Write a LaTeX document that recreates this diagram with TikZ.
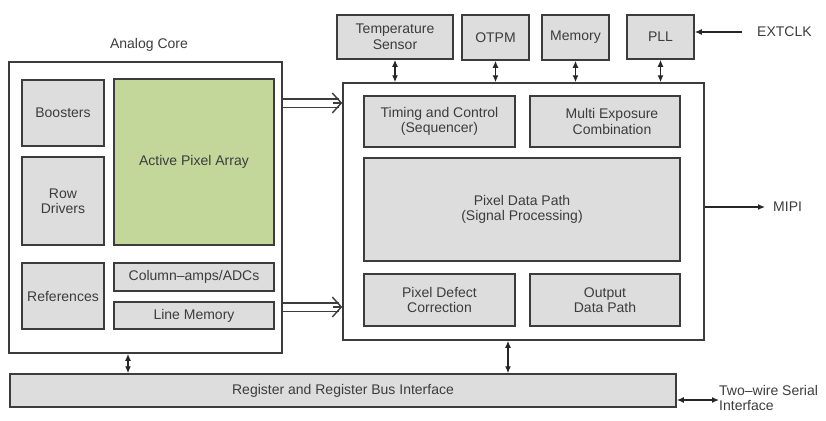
\documentclass[tikz,border=0pt]{standalone}
\usepackage{fontspec}
\setmainfont{Liberation Sans}
\usetikzlibrary{arrows.meta}
\definecolor{blkgray}{RGB}{221,221,221}
\definecolor{pixgreen}{RGB}{196,215,155}
\definecolor{edgegray}{RGB}{60,60,60}
\begin{document}
\begin{tikzpicture}[x=1pt,y=-1pt,
    txt/.style={text=edgegray,font=\fontsize{14}{15.5}\selectfont,align=center,inner sep=0pt},
    blk/.style={txt,draw=edgegray,line width=1.5pt,fill=blkgray},
    frame/.style={draw=edgegray,line width=1.5pt,fill=white},
    bus/.style={draw=black!85,line width=1.3pt,{Latex[length=7pt,width=6pt]}-{Latex[length=7pt,width=6pt]}},
    wire/.style={draw=black!85,line width=1.3pt,-{Latex[length=7pt,width=6pt]}},
    wide/.style={draw=edgegray,line width=1.4pt,double=white,double distance=7pt,shorten >=3.5pt},
    widehead/.style={draw=edgegray,line width=1.4pt,-{Straight Barb[length=9pt,width=20pt]}}]
    \useasboundingbox (0,0) rectangle (826,420);
    \node[frame,minimum width=273pt,minimum height=291pt] (core) at (145.5,207.5) {};
    \node[txt] (corelbl) at (149,45) {Analog Core};
    \node[blk,minimum width=82pt,minimum height=66pt] (boost) at (63,113) {Boosters};
    \node[blk,minimum width=82pt,minimum height=88pt] (rowdrv) at (63,201) {Row\\Drivers};
    \node[blk,fill=pixgreen,minimum width=160pt,minimum height=166pt] (pixarr) at (194,162) {Active Pixel Array};
    \node[blk,minimum width=82pt,minimum height=66pt] (refs) at (63,296) {References};
    \node[blk,minimum width=160pt,minimum height=28pt] (colamp) at (194,277) {Column--amps/ADCs};
    \node[blk,minimum width=160pt,minimum height=27pt] (linemem) at (194,315.5) {Line Memory};

    \node[frame,minimum width=361pt,minimum height=257pt] (digital) at (523.5,211.5) {};
    \node[blk,minimum width=151pt,minimum height=51pt] (timing) at (439.5,121.5) {Timing and Control\\(Sequencer)};
    \node[blk,minimum width=150pt,minimum height=51pt,text depth=-6pt] (multiexp) at (605,121.5) {\hspace*{14pt}Multi Exposure\\\hspace*{14pt}Combination};
    \node[blk,minimum width=316pt,minimum height=103pt] (datapath) at (522,209.5) {Pixel Data Path\\(Signal Processing)};
    \node[blk,minimum width=151pt,minimum height=52pt] (defect) at (439.5,300) {Pixel Defect\\Correction};
    \node[blk,minimum width=150pt,minimum height=52pt] (outpath) at (605,300) {Output\\Data Path};

    \node[blk,minimum width=116pt,minimum height=44pt] (temp) at (395,37) {Temperature\\Sensor};
    \node[blk,minimum width=67pt,minimum height=45pt] (otpm) at (495.5,37.5) {OTPM};
    \node[blk,minimum width=67pt,minimum height=45pt] (mem) at (575.5,37.5) {Memory};
    \node[blk,minimum width=67pt,minimum height=44pt] (pll) at (660.5,37) {PLL};
    \node[txt,anchor=west] (ext) at (757,32) {EXTCLK};
    \node[txt,anchor=west] (mipi) at (773,207) {MIPI};

    \node[blk,minimum width=666pt,minimum height=33pt] (reg) at (343,390.5) {Register and Register Bus Interface};
    \node[txt,anchor=west,align=left] (twowire) at (719,398) {Two--wire Serial\\Interface};

    \draw[wide] (core.east |- 0,103) -- (digital.west |- 0,103);
    \draw[widehead] ([xshift=-9pt]digital.west |- 0,103) -- (digital.west |- 0,103);
    \draw[wide] (core.east |- 0,307) -- (digital.west |- 0,307);
    \draw[widehead] ([xshift=-9pt]digital.west |- 0,307) -- (digital.west |- 0,307);
    \draw[bus] (temp.south) -- (temp.south |- digital.north);
    \draw[bus] (otpm.south) -- (otpm.south |- digital.north);
    \draw[bus] (mem.south) -- (mem.south |- digital.north);
    \draw[bus] (pll.south) -- (pll.south |- digital.north);
    \draw[wire,shorten <=15pt] (ext.west) -- (pll.east |- ext.west);
    \draw[wire,shorten >=8pt] (digital.east |- mipi.west) -- (mipi.west);
    \draw[bus] (core.south -| 128,0) -- (reg.north -| 128,0);
    \draw[bus] (digital.south -| 508,0) -- (reg.north -| 508,0);
    \draw[bus] (reg.east |- 0,400) -- (twowire.west |- 0,400);
\end{tikzpicture}
\end{document}
